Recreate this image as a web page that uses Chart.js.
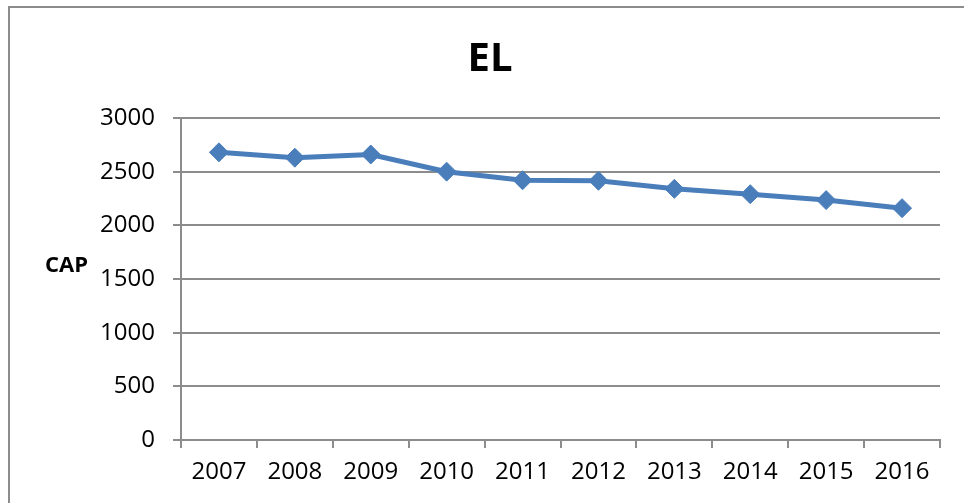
<!DOCTYPE html>
<html lang="en">
<head>
    <meta charset="UTF-8">
    <title>EL</title>
    <script src="https://cdn.jsdelivr.net/npm/chart.js"></script>
    <style>
        html, body { margin: 0; padding: 0; background: #ffffff; overflow: hidden; }
        .frame {
            position: absolute; left: 8px; top: 6px;
            width: 1000px; height: 560px;
            border-top: 2px solid #8c8c8c; border-left: 2px solid #8c8c8c;
        }
        .wrap { position: absolute; left: 0; top: 0; width: 964px; height: 503px; }
        .cap-label {
            position: absolute; left: 45px; top: 252px;
            font-family: 'Open Sans', sans-serif; font-weight: bold;
            font-size: 22px; line-height: 22px; color: #000;
        }
    </style>
</head>
<body>
<div class="frame"></div>
<div class="wrap"><canvas id="grafico" width="964" height="503"></canvas></div>
<span class="cap-label">CAP</span>
<script>
// datos
const anios = ['2007','2008','2009','2010','2011','2012','2013','2014','2015','2016'];
const valores = [2680, 2630, 2660, 2500, 2420, 2415, 2340, 2290, 2235, 2160];
const yTicks = [0, 500, 1000, 1500, 2000, 2500, 3000];

const azul = '#4a7ebb';
const gris = '#8c8c8c';
const fuente = "'Open Sans', sans-serif";

new Chart(document.getElementById('grafico'), {
    type: 'line',
    data: {
        labels: anios,
        datasets: [{
            data: valores,
            borderColor: azul,
            backgroundColor: azul,
            borderWidth: 5,
            pointStyle: 'rectRot',
            pointRadius: 9.5,
            pointBorderWidth: 1,
            pointBorderColor: azul,
            pointBackgroundColor: azul,
            tension: 0
        }]
    },
    options: {
        responsive: false,
        animation: false,
        devicePixelRatio: 1,
        layout: { padding: { left: 40, right: 24, top: 0, bottom: 0 } },
        plugins: {
            legend: { display: false },
            tooltip: { enabled: false },
            title: {
                display: true,
                text: 'EL',
                color: '#000',
                font: { family: fuente, size: 40, weight: 'bold' },
                padding: { top: 36, bottom: 34 }
            }
        },
        scales: {
            x: {
                offset: true,
                grid: {
                    offset: true,
                    drawOnChartArea: false,
                    drawTicks: true,
                    tickLength: 8,
                    color: gris,
                    lineWidth: 2
                },
                border: { color: gris, width: 2 },
                ticks: {
                    color: '#000',
                    font: { family: fuente, size: 24 },
                    padding: 10,
                    maxRotation: 0
                },
                afterFit: s => { s.height = 63; }
            },
            y: {
                min: 0,
                max: 3000,
                afterBuildTicks: s => { s.ticks = yTicks.map(v => ({ value: v })); },
                grid: {
                    color: gris,
                    lineWidth: 2,
                    tickLength: 8
                },
                border: { color: gris, width: 2 },
                ticks: {
                    color: '#000',
                    font: { family: fuente, size: 24 },
                    padding: 18,
                    callback: v => String(v)
                },
                afterFit: s => { s.width = 141; }
            }
        }
    }
});
</script>
</body>
</html>
